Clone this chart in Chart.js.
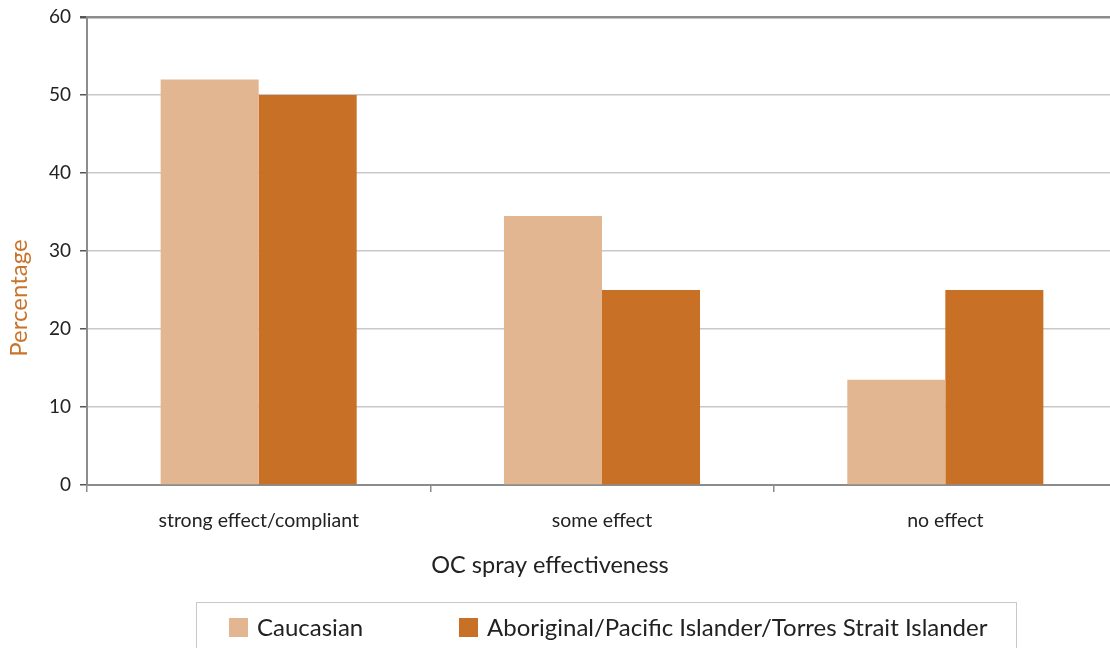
<!DOCTYPE html>
<html><head><meta charset="utf-8">
<script src="https://cdn.jsdelivr.net/npm/chart.js@4/dist/chart.umd.min.js"></script>
<style>html,body{margin:0;padding:0;overflow:hidden;background:#fff;width:1110px;height:648px}#wrap{width:1120px;height:648px}</style>
</head><body><div id="wrap"><canvas id="c" width="1120" height="648"></canvas></div>
<script>
const categories = ['strong effect/compliant', 'some effect', 'no effect'];
const seriesNames = ['Caucasian', 'Aboriginal/Pacific Islander/Torres Strait Islander'];
const caucasian = [52, 34.5, 13.5];
const aboriginal = [50, 25, 25];
const yTickValues = [0, 10, 20, 30, 40, 50, 60];
const yTitle = 'Percentage';
const xTitle = 'OC spray effectiveness';
const colors = ['#E3B692', '#C97027'];
const FONT = 'Lato, "Open Sans", sans-serif';

const extras = {
  id: 'extras',
  afterDraw(chart) {
    const ctx = chart.ctx;
    ctx.save();
    // y title
    ctx.fillStyle = '#C8742C';
    ctx.font = '24px ' + FONT;
    ctx.textAlign = 'center';
    ctx.textBaseline = 'middle';
    ctx.translate(19, 298);
    ctx.rotate(-Math.PI / 2);
    ctx.fillText(yTitle, 0, 0);
    ctx.restore();
    ctx.save();
    // x title
    ctx.fillStyle = '#222';
    ctx.font = '23.5px ' + FONT;
    ctx.textAlign = 'center';
    ctx.textBaseline = 'middle';
    ctx.fillText(xTitle, 550, 565);
    // legend box
    ctx.strokeStyle = '#c8c8c8';
    ctx.lineWidth = 1;
    ctx.strokeRect(196.5, 602.5, 820, 60);
    const items = [{x: 229}, {x: 459}];
    ctx.font = '24px ' + FONT;
    ctx.textAlign = 'left';
    chart.data.datasets.forEach((ds, i) => {
      const x = items[i].x;
      ctx.fillStyle = ds.backgroundColor;
      ctx.fillRect(x, 618, 19, 19);
      ctx.fillStyle = '#222';
      ctx.fillText(ds.label, x + 28, 628);
    });
    ctx.restore();
  }
};

new Chart(document.getElementById('c'), {
  type: 'bar',
  data: {
    labels: categories,
    datasets: [
      {label: seriesNames[0], data: caucasian, backgroundColor: colors[0], borderWidth: 0},
      {label: seriesNames[1], data: aboriginal, backgroundColor: colors[1], borderWidth: 0}
    ]
  },
  options: {
    responsive: false,
    animation: false,
    devicePixelRatio: 1,
    layout: {padding: {left: 0, top: 17, right: 3, bottom: 0}},
    plugins: {legend: {display: false}, tooltip: {enabled: false}},
    datasets: {bar: {categoryPercentage: 0.571, barPercentage: 1}},
    scales: {
      x: {
        afterFit(s) { s.height = 163; s.paddingLeft = 0; s.paddingRight = 0; },
        grid: {display: true, drawOnChartArea: false, drawTicks: true, offset: true, tickLength: 7, color: '#8c8c8c', lineWidth: 1.5},
        border: {display: true, color: '#8c8c8c', width: 2},
        ticks: {color: '#222', font: {family: FONT, size: 19.5}, padding: 17}
      },
      y: {
        min: 0, max: 60,
        afterFit(s) { s.width = 87; s.paddingTop = 0; s.paddingBottom = 0; },
        afterBuildTicks(s) { s.ticks = yTickValues.map(v => ({value: v})); },
        grid: {
          color: ctx => (ctx.tick && ctx.tick.value === 60) ? '#8c8c8c' : '#c8c8c8',
          lineWidth: ctx => (ctx.tick && ctx.tick.value === 60) ? 2.5 : 1.5,
          tickColor: '#555', tickLength: 7, drawTicks: true
        },
        border: {display: true, color: '#8c8c8c', width: 2},
        ticks: {color: '#222', font: {family: FONT, size: 19}, padding: 9}
      }
    }
  },
  plugins: [extras]
});
</script></body></html>
